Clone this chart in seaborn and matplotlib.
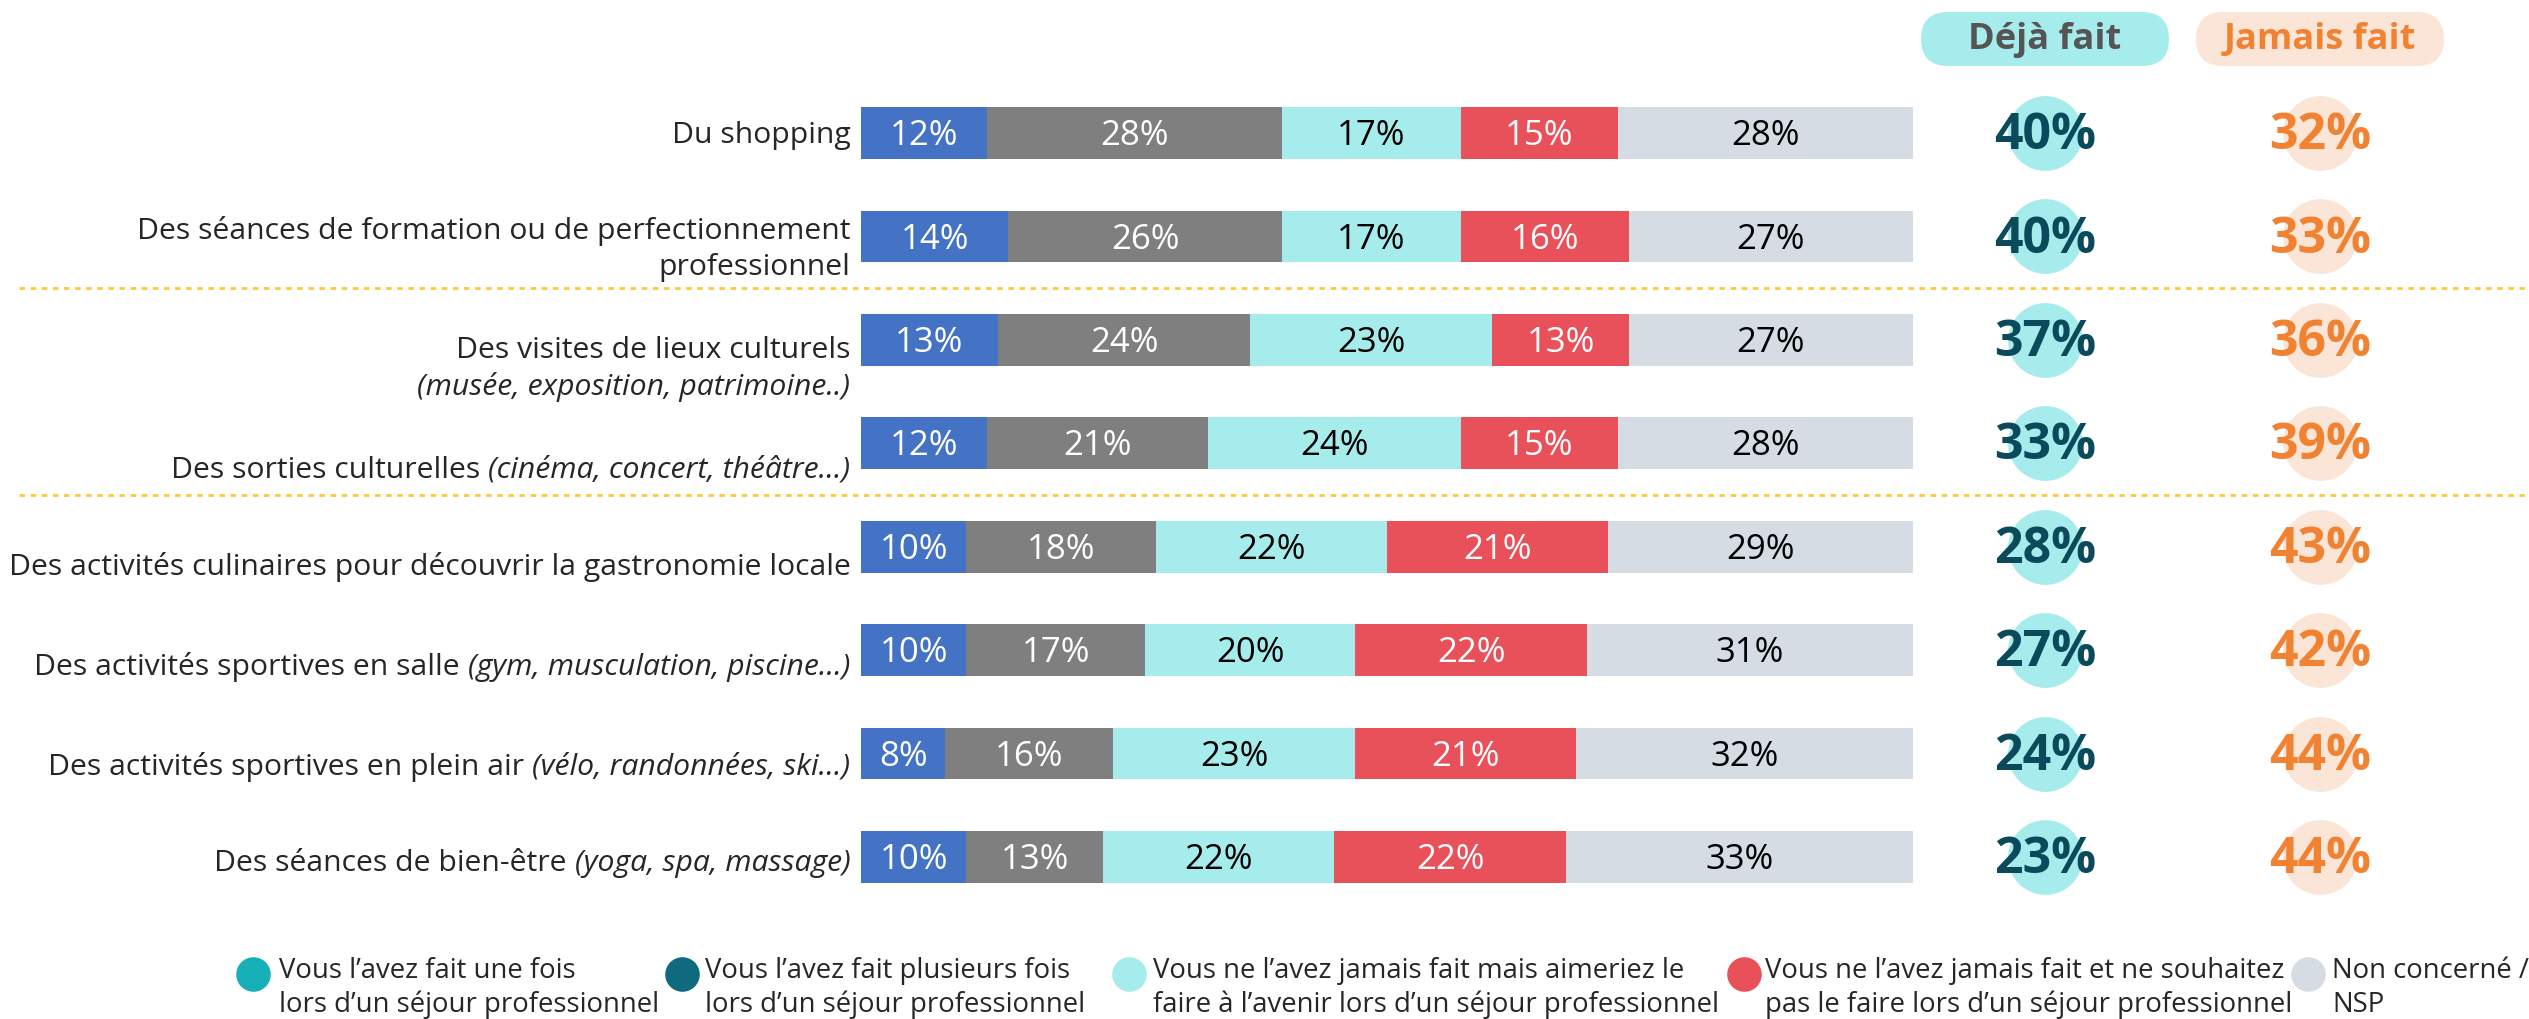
import numpy as np
import pandas as pd
import seaborn as sns
import matplotlib.pyplot as plt
from matplotlib.patches import FancyBboxPatch

sns.set_theme(style='white')
plt.rcParams['font.family'] = ['Open Sans', 'DejaVu Sans']

# data
activities = ['Du shopping',
              'Des séances de formation ou de perfectionnement\nprofessionnel',
              'Des visites de lieux culturels',
              'Des sorties culturelles',
              'Des activités culinaires pour découvrir la gastronomie locale',
              'Des activités sportives en salle',
              'Des activités sportives en plein air',
              'Des séances de bien-être']
details = ['', '', '\n(musée, exposition, patrimoine..)', '(cinéma, concert, théâtre…)',
           '', '(gym, musculation, piscine…)', '(vélo, randonnées, ski…)',
           '(yoga, spa, massage)']
une_fois = [12, 14, 13, 12, 10, 10, 8, 10]
plusieurs_fois = [28, 26, 24, 21, 18, 17, 16, 13]
aimeriez = [17, 17, 23, 24, 22, 20, 23, 22]
ne_souhaitez_pas = [15, 16, 13, 15, 21, 22, 21, 22]
non_concerne = [28, 27, 27, 28, 29, 31, 32, 33]
deja_fait = [40, 40, 37, 33, 28, 27, 24, 23]
jamais_fait = [32, 33, 36, 39, 43, 42, 44, 44]
legend_labels = ['Vous l’avez fait une fois\nlors d’un séjour professionnel',
                 'Vous l’avez fait plusieurs fois\nlors d’un séjour professionnel',
                 'Vous ne l’avez jamais fait mais aimeriez le\nfaire à l’avenir lors d’un séjour professionnel',
                 'Vous ne l’avez jamais fait et ne souhaitez\npas le faire lors d’un séjour professionnel',
                 'Non concerné /\nNSP']

segments = ['une_fois', 'plusieurs_fois', 'aimeriez', 'ne_souhaitez_pas', 'non_concerne']
bar_colors = ['#4472C4', '#7F7F7F', '#A6ECEC', '#E8515A', '#D6DCE4']
text_colors = ['white', 'white', 'black', 'white', 'black']
legend_colors = ['#17B0B8', '#0F6A80', '#A6ECEC', '#E8515A', '#D6DCE4']

df = pd.DataFrame({'activite': activities, 'une_fois': une_fois,
                   'plusieurs_fois': plusieurs_fois, 'aimeriez': aimeriez,
                   'ne_souhaitez_pas': ne_souhaitez_pas, 'non_concerne': non_concerne})
cum = df[segments].cumsum(axis=1)

W, H = 2529, 1019
fig = plt.figure(figsize=(W / 100, H / 100), dpi=100)
fig.patch.set_facecolor('white')

# overlay in pixel units for header pills and legend
lax = fig.add_axes([0, 0, 1, 1])
lax.set_xlim(0, W)
lax.set_ylim(H, 0)
lax.axis('off')

ax_bottom, ax_height = 0.1082, 0.812
ax = fig.add_axes([861 / W, ax_bottom, 1052 / W, ax_height])
for seg, color in reversed(list(zip(segments, bar_colors))):
    sns.barplot(x=cum[seg], y=df['activite'], color=color, orient='h', width=0.5,
                saturation=1, linewidth=0, ax=ax)
ax.set_xlim(0, 100)
ax.axis('off')

for i in range(len(df)):
    left = 0
    for seg, tc in zip(segments, text_colors):
        v = df.loc[i, seg]
        ax.text(left + v / 2, i + 0.03, f'{v}%', ha='center', va='center',
                fontsize=25, color=tc)
        left += v

# row labels
fs = 21.7
label_offsets = [0.02, 0.12, 0.28, 0.26, 0.2, 0.17, 0.13, 0.06]
for i, (main, det) in enumerate(zip(activities, details)):
    y = i + label_offsets[i]
    if det.startswith('\n'):
        ax.text(-1.0, y - 0.18, main, ha='right', va='center', fontsize=fs)
        ax.text(-1.0, y + 0.18, det.strip(), ha='right', va='center', fontsize=fs,
                style='italic')
    elif det:
        it = ax.text(-1.0, y, det, ha='right', va='center', fontsize=fs, style='italic')
        ax.annotate(main, xy=(0, 0), xycoords=it, xytext=(-6, 0),
                    textcoords='offset points', ha='right', va='bottom', fontsize=fs)
    else:
        ax.text(-1.0, y, main, ha='right', va='center', fontsize=fs,
                multialignment='right', linespacing=1.3)

for yy in [1.5, 3.5]:
    ax.axhline(yy, xmin=-0.80, xmax=1.59, color='#FFC93C', lw=2,
               linestyle=(0, (2, 2)), clip_on=False)

# summary columns
ax2 = fig.add_axes([1907.5 / W, ax_bottom, 550 / W, ax_height])
ax2.set_xlim(0, 2)
ax2.set_ylim(ax.get_ylim())
ax2.axis('off')
rows = np.arange(len(df))
sns.scatterplot(x=np.full(len(df), 0.5), y=rows, s=2900, color='#A6ECEC',
                linewidth=0, legend=False, ax=ax2)
sns.scatterplot(x=np.full(len(df), 1.5), y=rows, s=2900, color='#FBE5D6',
                linewidth=0, legend=False, ax=ax2)
for i in rows:
    ax2.text(0.5, i + 0.03, f'{deja_fait[i]}%', ha='center', va='center',
             fontsize=36, fontweight='bold', color='#0B4A5A')
    ax2.text(1.5, i + 0.03, f'{jamais_fait[i]}%', ha='center', va='center',
             fontsize=36, fontweight='bold', color='#F08232')

# header pills
for cx, label, face, tc in [(2045, 'Déjà fait', '#A6ECEC', '#555555'),
                            (2320, 'Jamais fait', '#FBE5D6', '#F08232')]:
    lax.add_patch(FancyBboxPatch((cx - 124, 12), 248, 54,
                                 boxstyle='round,pad=0,rounding_size=27',
                                 facecolor=face, edgecolor='none'))
    lax.text(cx, 40, label, ha='center', va='center', fontsize=26,
             fontweight='bold', color=tc)

# legend
marker_x = [253, 682, 1129, 1744, 2308]
text_x = [279, 705, 1153, 1765, 2332]
for mx, tx, col, lab in zip(marker_x, text_x, legend_colors, legend_labels):
    lax.scatter([mx], [974], s=620, color=col, linewidth=0)
    lax.text(tx, 988, lab, ha='left', va='center', fontsize=19.8, linespacing=1.3)

fig.savefig('out.png', dpi=100, facecolor='white')
